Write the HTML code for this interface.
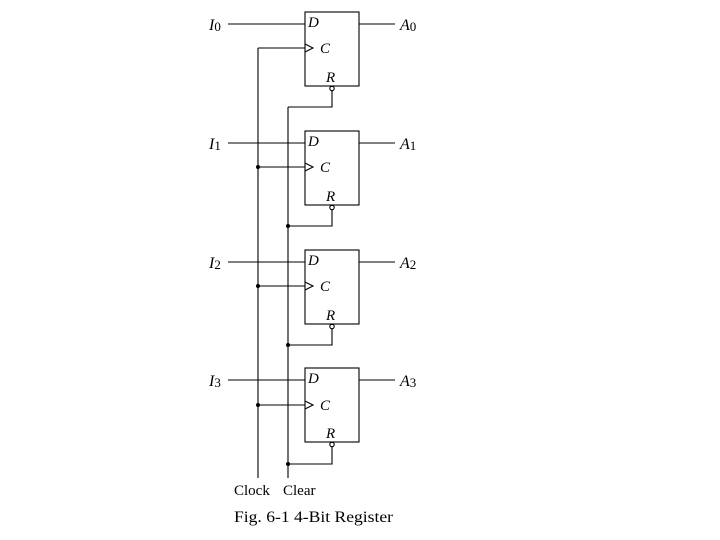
<!DOCTYPE html>
<html><head><style>body{margin:0;background:#fff}svg{display:block}</style></head><body>
<svg width="720" height="540" xmlns="http://www.w3.org/2000/svg" font-family="Liberation Serif, serif">
<g stroke="#000" stroke-width="1.1" fill="none">
<line x1="258" y1="48" x2="258" y2="478"/>
<line x1="288" y1="107" x2="288" y2="478"/>
<rect x="305" y="12" width="54" height="74"/>
<line x1="228" y1="24" x2="305" y2="24"/><line x1="359" y1="24" x2="395" y2="24"/>
<line x1="258" y1="48" x2="305" y2="48"/><polyline points="305,44 313,48 305,52"/>
<circle cx="332" cy="88.5" r="2.2"/><polyline points="332,91 332,107 288,107"/>
<rect x="305" y="131" width="54" height="74"/>
<line x1="228" y1="143" x2="305" y2="143"/><line x1="359" y1="143" x2="395" y2="143"/>
<line x1="258" y1="167" x2="305" y2="167"/><polyline points="305,163 313,167 305,171"/>
<circle cx="332" cy="207.5" r="2.2"/><polyline points="332,210 332,226 288,226"/>
<rect x="305" y="250" width="54" height="74"/>
<line x1="228" y1="262" x2="305" y2="262"/><line x1="359" y1="262" x2="395" y2="262"/>
<line x1="258" y1="286" x2="305" y2="286"/><polyline points="305,282 313,286 305,290"/>
<circle cx="332" cy="326.5" r="2.2"/><polyline points="332,329 332,345 288,345"/>
<rect x="305" y="368" width="54" height="74"/>
<line x1="228" y1="380" x2="305" y2="380"/><line x1="359" y1="380" x2="395" y2="380"/>
<line x1="258" y1="405" x2="305" y2="405"/><polyline points="305,401 313,405 305,409"/>
<circle cx="332" cy="444.5" r="2.2"/><polyline points="332,447 332,464 288,464"/>
</g>
<g fill="#000">
<circle cx="258" cy="167" r="2"/><circle cx="258" cy="286" r="2"/><circle cx="258" cy="405" r="2"/>
<circle cx="288" cy="226" r="2"/><circle cx="288" cy="345" r="2"/><circle cx="288" cy="464" r="2"/>
</g>
<g font-size="15" font-style="italic" fill="#000">
<text x="308" y="27">D</text><text x="320" y="53">C</text><text x="326" y="82">R</text>
<text x="308" y="146">D</text><text x="320" y="172">C</text><text x="326" y="201">R</text>
<text x="308" y="265">D</text><text x="320" y="291">C</text><text x="326" y="320">R</text>
<text x="308" y="383">D</text><text x="320" y="410">C</text><text x="326" y="438">R</text>
</g>
<g font-size="16" font-style="italic" fill="#000">
<text x="209" y="30">I<tspan font-size="13" font-style="normal" dy="1">0</tspan></text>
<text x="209" y="149">I<tspan font-size="13" font-style="normal" dy="1">1</tspan></text>
<text x="209" y="268">I<tspan font-size="13" font-style="normal" dy="1">2</tspan></text>
<text x="209" y="386">I<tspan font-size="13" font-style="normal" dy="1">3</tspan></text>
<text x="400" y="30">A<tspan font-size="13" font-style="normal" dy="1">0</tspan></text>
<text x="400" y="149">A<tspan font-size="13" font-style="normal" dy="1">1</tspan></text>
<text x="400" y="268">A<tspan font-size="13" font-style="normal" dy="1">2</tspan></text>
<text x="400" y="386">A<tspan font-size="13" font-style="normal" dy="1">3</tspan></text>
</g>
<text x="234" y="495" font-size="15" fill="#000">Clock</text>
<text x="283" y="495" font-size="15" fill="#000">Clear</text>
<text x="234" y="522" font-size="16" fill="#000" textLength="159" lengthAdjust="spacingAndGlyphs">Fig. 6-1  4-Bit Register</text>
</svg>
</body></html>
